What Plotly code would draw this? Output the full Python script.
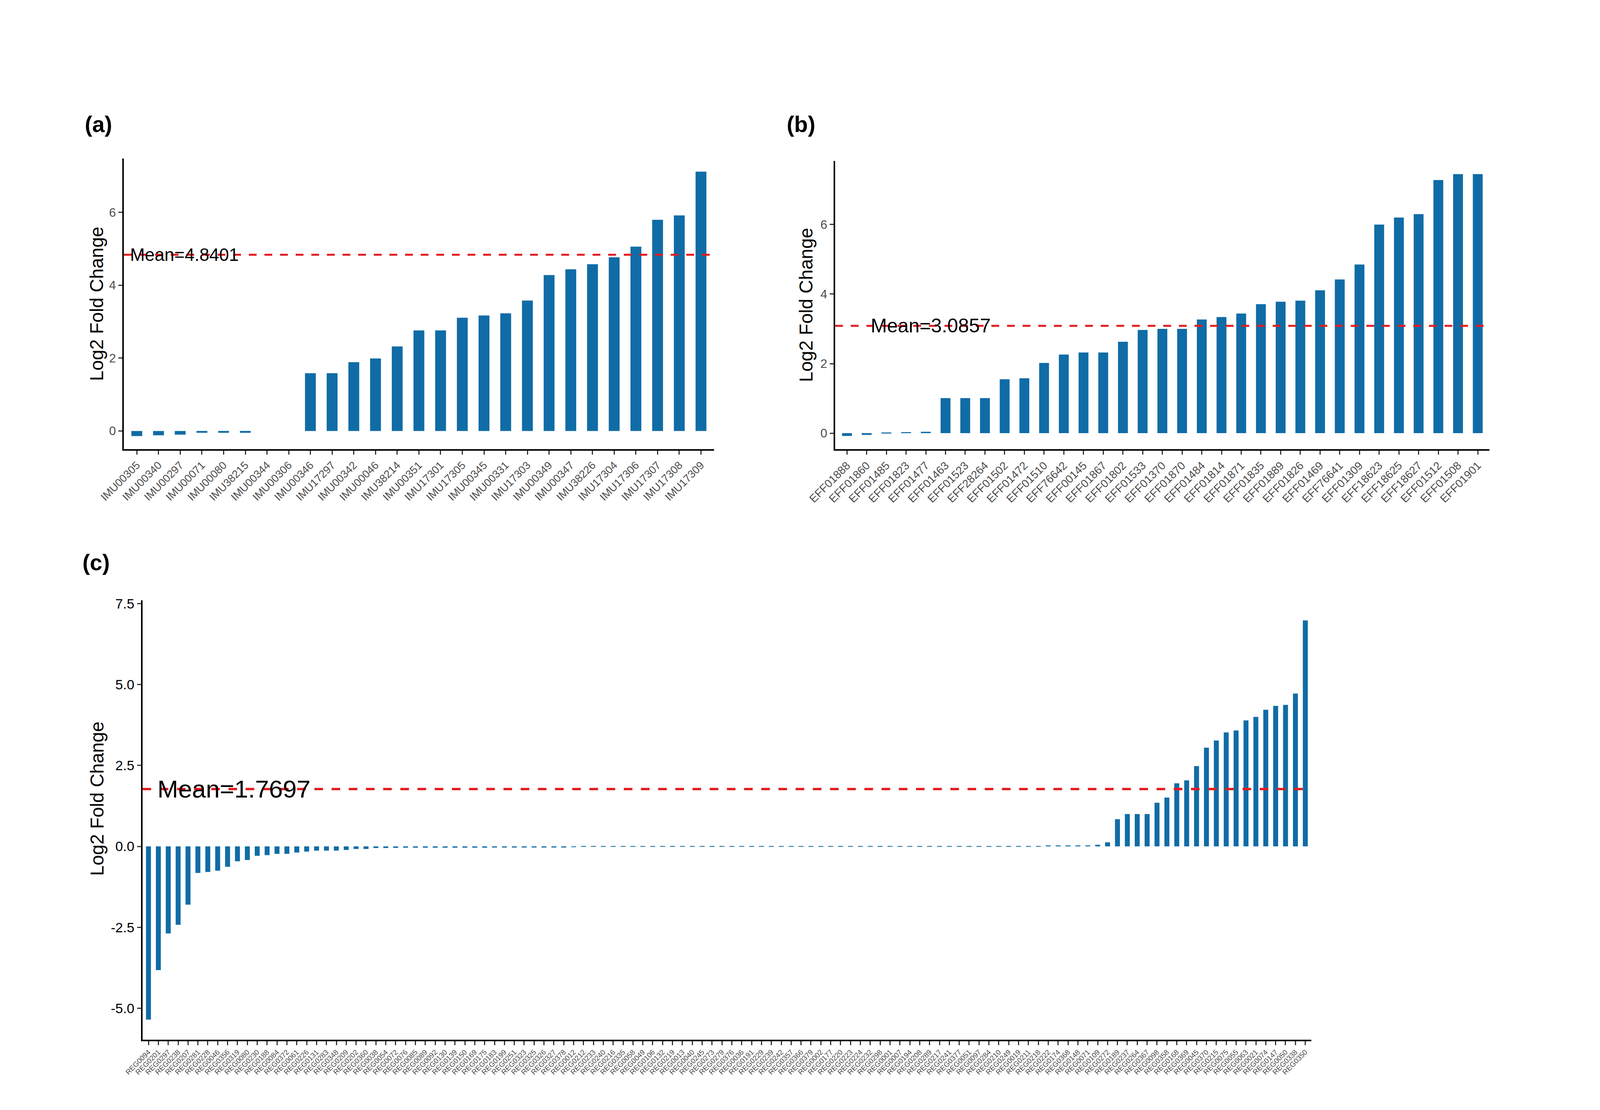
import plotly.graph_objects as go

# ---------------- data ----------------
a_labels = ["IMU00305", "IMU00340", "IMU00297", "IMU00071", "IMU00080", "IMU38215", "IMU00344",
            "IMU00306", "IMU00346", "IMU17297", "IMU00342", "IMU00046", "IMU38214", "IMU00351",
            "IMU17301", "IMU17305", "IMU00345", "IMU00331", "IMU17303", "IMU00349", "IMU00347",
            "IMU38226", "IMU17304", "IMU17306", "IMU17307", "IMU17308", "IMU17309"]
a_values = [-0.14, -0.12, -0.10, -0.05, -0.05, -0.05, 0.0, 0.0, 1.585, 1.585, 1.89, 1.99, 2.32,
            2.76, 2.76, 3.11, 3.17, 3.23, 3.58, 4.28, 4.44, 4.58, 4.77, 5.06, 5.80, 5.92, 7.12]
a_mean = 4.8401

b_labels = ["EFF01888", "EFF01860", "EFF01485", "EFF01823", "EFF01477", "EFF01463", "EFF01523",
            "EFF28264", "EFF01502", "EFF01472", "EFF01510", "EFF76642", "EFF00145", "EFF01867",
            "EFF01802", "EFF01533", "EFF01370", "EFF01870", "EFF01484", "EFF01814", "EFF01871",
            "EFF01835", "EFF01889", "EFF01826", "EFF01469", "EFF76641", "EFF01309", "EFF18623",
            "EFF18625", "EFF18627", "EFF01512", "EFF01508", "EFF01901"]
b_values = [-0.08, -0.05, 0.02, 0.03, 0.04, 1.01, 1.01, 1.01, 1.55, 1.58, 2.02, 2.26, 2.32, 2.32,
            2.63, 2.97, 3.00, 3.00, 3.27, 3.34, 3.44, 3.71, 3.78, 3.81, 4.11, 4.42, 4.85, 6.00,
            6.20, 6.30, 7.28, 7.45, 7.45]
b_mean = 3.0857

c_labels = ["REG0094", "REG0201", "REG0297", "REG0238", "REG0207", "REG0281", "REG0228", "REG0046",
            "REG0356", "REG0319", "REG0080", "REG0230", "REG0188", "REG0084", "REG0372", "REG0061",
            "REG0226", "REG0131", "REG0283", "REG0348", "REG0209", "REG0202", "REG0360", "REG0038",
            "REG0054", "REG0072", "REG0076", "REG0085", "REG0089", "REG0092", "REG0130", "REG0139",
            "REG0150", "REG0169", "REG0175", "REG0183", "REG0199", "REG0251", "REG0323", "REG0325",
            "REG0326", "REG0327", "REG0378", "REG0012", "REG0212", "REG0233", "REG0240", "REG0216",
            "REG0335", "REG0058", "REG0049", "REG0106", "REG0132", "REG0219", "REG0013", "REG0040",
            "REG0245", "REG0273", "REG0279", "REG0376", "REG0036", "REG0191", "REG0229", "REG0239",
            "REG0242", "REG0357", "REG0366", "REG0379", "REG0002", "REG0177", "REG0220", "REG0223",
            "REG0224", "REG0232", "REG0298", "REG0001", "REG0007", "REG0194", "REG0208", "REG0289",
            "REG0217", "REG0241", "REG0377", "REG0051", "REG0097", "REG0284", "REG0210", "REG0249",
            "REG0019", "REG0211", "REG0218", "REG0222", "REG0174", "REG0368", "REG0148", "REG0071",
            "REG0109", "REG0272", "REG0189", "REG0237", "REG0264", "REG0367", "REG0098", "REG0358",
            "REG0168", "REG0369", "REG0045", "REG0370", "REG0215", "REG0075", "REG0055", "REG0063",
            "REG0021", "REG0074", "REG0147", "REG0050", "REG0338", "REG0350"]
c_values = [-5.35, -3.82, -2.69, -2.42, -1.80, -0.82, -0.79, -0.75, -0.63, -0.46, -0.42, -0.29,
            -0.27, -0.23, -0.23, -0.19, -0.16, -0.13, -0.13, -0.13, -0.11, -0.08, -0.08, -0.05,
            -0.05, -0.045, -0.04,
            -0.04, -0.04, -0.04, -0.04, -0.04, -0.04, -0.04, -0.04,
            -0.035, -0.035, -0.035, -0.035, -0.035, -0.035, -0.035, -0.035,
            -0.02,
            0.008, 0.008, 0.008, 0.008, 0.008, 0.008, 0.008, 0.008, 0.008, 0.008,
            0.008, 0.008, 0.008, 0.008, 0.008, 0.008, 0.008, 0.008, 0.008, 0.008,
            0.008, 0.008, 0.008, 0.008, 0.008, 0.008, 0.008, 0.008, 0.008, 0.008,
            0.008, 0.008, 0.008, 0.008, 0.008, 0.008, 0.008, 0.008, 0.008, 0.008,
            0.008, 0.008, 0.008, 0.008, 0.008, 0.008, 0.008,
            0.03, 0.03, 0.03, 0.03,
            0.03, 0.05, 0.125, 0.84, 1.00, 1.00, 1.00, 1.35, 1.51, 1.95, 2.04, 2.48, 3.05, 3.27,
            3.52, 3.58, 3.89, 4.00, 4.22, 4.34, 4.37, 4.72, 6.98]
c_mean = 1.7697

# ---------------- style ----------------
# layout is designed on the 4782 x 2842 reference grid and expressed as paper fractions
RW, RH = 4782, 2842
VW, VH = 4096, 2842          # actual browser viewport (the page is re-fitted in JS below)
FS = 0.925                   # font compensation for the narrower viewport
BAR = "#106CA6"
RED = "#E41A1C"
FONT = "Liberation Sans, Arial, sans-serif"


def px(x):
    return x / RW


def py(y):
    return 1 - y / RH


def f(s):
    return round(s * FS, 1)


fig = go.Figure()
fig.add_trace(go.Bar(x=a_labels, y=a_values, xaxis="x", yaxis="y", width=0.5,
                     marker=dict(color=BAR, line=dict(width=0)), showlegend=False))
fig.add_trace(go.Bar(x=b_labels, y=b_values, xaxis="x2", yaxis="y2", width=0.5,
                     marker=dict(color=BAR, line=dict(width=0)), showlegend=False))
fig.add_trace(go.Bar(x=c_labels, y=c_values, xaxis="x3", yaxis="y3", width=0.5,
                     marker=dict(color=BAR, line=dict(width=0)), showlegend=False))


def xax(domain, anchor, n, size):
    return dict(domain=domain, anchor=anchor, type="category", range=[-0.6, n - 0.4],
                tickangle=-45, tickfont=dict(family=FONT, size=f(size), color="#4d4d4d"),
                ticks="outside", ticklen=10, tickwidth=3, tickcolor="#333333",
                showline=True, linecolor="black", linewidth=3.5, showgrid=False,
                zeroline=False, fixedrange=True, automargin=False)


def yax(domain, anchor, rng, vals, texts, size, color):
    return dict(domain=domain, anchor=anchor, range=rng, tickmode="array", tickvals=vals,
                ticktext=texts, tickfont=dict(family=FONT, size=f(size), color=color),
                ticks="outside", ticklen=10, tickwidth=3, tickcolor="#333333",
                showline=True, linecolor="black", linewidth=3.5, showgrid=False,
                zeroline=False, fixedrange=True, automargin=False)


fig.update_layout(
    template="none",
    width=VW, height=VH, autosize=False,
    margin=dict(l=0, r=0, t=0, b=0, pad=0),
    paper_bgcolor="white", plot_bgcolor="white",
    font=dict(family=FONT, color="black"),
    bargap=0.5,
    xaxis=xax([px(370), px(2134)], "y", len(a_labels), 30),
    yaxis=yax([py(1150), py(406)], "x", [-0.5, 7.48], [0, 2, 4, 6], ["0", "2", "4", "6"], 34, "#4d4d4d"),
    xaxis2=xax([px(2496), px(4452)], "y2", len(b_labels), 31),
    yaxis2=yax([py(1150), py(412)], "x2", [-0.46, 7.83], [0, 2, 4, 6], ["0", "2", "4", "6"], 34, "#4d4d4d"),
    xaxis3=xax([px(426), px(3919)], "y3", len(c_labels), 20),
    yaxis3=yax([py(2662), py(1537)], "x3", [-5.97, 7.6], [-5, -2.5, 0, 2.5, 5, 7.5],
               ["-5.0", "-2.5", "0.0", "2.5", "5.0", "7.5"], 38, "black"),
)

# mean lines
for xr, yr, m, dash, lw in [("x domain", "y", a_mean, "20px,20px", 5),
                            ("x2 domain", "y2", b_mean, "20px,20px", 5),
                            ("x3 domain", "y3", c_mean, "22px,22px", 6)]:
    fig.add_shape(type="line", xref=xr, yref=yr, x0=0, x1=1, y0=m, y1=m,
                  line=dict(color=RED, width=lw, dash=dash), layer="above")

# mean labels
for xr, yr, m, xf, size in [("x domain", "y", a_mean, 0.0096, 49),
                            ("x2 domain", "y2", b_mean, 0.053, 54),
                            ("x3 domain", "y3", c_mean, 0.012, 69)]:
    fig.add_annotation(xref=xr, yref=yr, x=xf, y=m, text="Mean=%s" % m, showarrow=False,
                       xanchor="left", yanchor="middle",
                       font=dict(family=FONT, size=f(size), color="black"))

# panel tags
for tag, x, y in [("(a)", 251, 318), ("(b)", 2349, 318), ("(c)", 244, 1440)]:
    fig.add_annotation(xref="paper", yref="paper", x=px(x), y=py(y), text="<b>%s</b>" % tag,
                       showarrow=False, xanchor="left", yanchor="middle",
                       font=dict(family=FONT, size=f(62), color="black"))

# y-axis titles (vertical text: its length runs along the unscaled height)
for x, y in [(290, 778), (2410, 781), (290, 2045)]:
    fig.add_annotation(xref="paper", yref="paper", x=px(x), y=py(y), text="Log2 Fold Change",
                       textangle=-90, showarrow=False, xanchor="center", yanchor="middle",
                       font=dict(family=FONT, size=48, color="black"))

fit = ("document.documentElement.style.margin='0';document.body.style.margin='0';"
       "document.body.style.overflow='hidden';"
       "var gd=document.getElementById('{plot_id}');"
       "Plotly.relayout(gd,{width:window.innerWidth,height:window.innerHeight});")
fig.write_html("out.html", post_script=fit, config={"displayModeBar": False})
